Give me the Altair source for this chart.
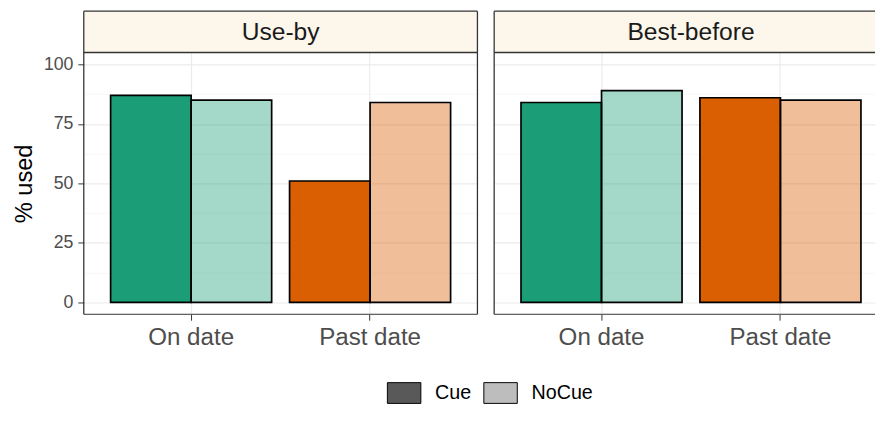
import altair as alt
import pandas as pd

# ---- data ----
panels = ["Use-by", "Best-before"]
dates = ["On date", "Past date"]
cues = ["Cue", "NoCue"]
# order: On date-Cue, On date-NoCue, Past date-Cue, Past date-NoCue
use_by = [87, 85, 51, 84]
best_before = [84, 89, 86, 85]

rows = []
for panel, vals in zip(panels, [use_by, best_before]):
    i = 0
    for d in dates:
        for c in cues:
            rows.append({"panel": panel, "date": d, "cue": c, "pct": vals[i]})
            i += 1
df = pd.DataFrame(rows)

FONT = "Liberation Sans"
W, H, SH = 400, 266, 42   # panel width, panel height, strip height
W_RIGHT = 387             # right panel is cut by the picture edge
GREEN, ORANGE = "#1b9e77", "#d95f02"
BORDER = "#333333"
major = "datum.value % 25 === 0"


def panel_chart(p, first):
    sub = df[df.panel == p]
    vw = W if first else W_RIGHT
    if first:
        xscale = alt.Scale(paddingInner=0.1, paddingOuter=0.15)
    else:
        # same band step / offset as a full 400px panel, but cut at the edge
        xscale = alt.Scale(paddingInner=0.1, paddingOuter=0.1144, align=0.6556)
    yaxis = alt.Axis(
        values=[0, 12.5, 25, 37.5, 50, 62.5, 75, 87.5, 100],
        labelExpr=f"{major} ? datum.label : ''",
        labels=first, ticks=first,
        tickOpacity={"condition": {"test": major, "value": 1}, "value": 0},
        gridWidth={"condition": {"test": major, "value": 1.2}, "value": 0.6},
        gridColor={"condition": {"test": major, "value": "#ebebeb"}, "value": "#f3f3f3"},
        title="% used" if first else None,
        titleFontSize=24, titleFontWeight="normal", titleColor="black", titlePadding=7,
        labelFontSize=18, labelColor="#4d4d4d", labelPadding=5,
        tickSize=6, tickColor=BORDER, domain=False,
    )
    xaxis = alt.Axis(
        title=None, labelAngle=0, labelFontSize=24.5, labelColor="#4d4d4d",
        labelPadding=6, tickSize=6, tickColor=BORDER, domain=False,
        grid=True, gridColor="#ebebeb", gridWidth=1.2,
    )
    xenc = alt.X("date:N", sort=dates, axis=xaxis, scale=xscale)
    yenc = alt.Y("pct:Q", axis=yaxis,
                 scale=alt.Scale(domain=[-5, 105], nice=False, zero=False))
    bars = alt.Chart(sub).mark_bar(stroke="black", strokeWidth=1.7).encode(
        x=xenc,
        xOffset=alt.XOffset("cue:N", sort=cues),
        y=yenc,
        fill=alt.Fill("date:N", sort=dates, legend=None,
                      scale=alt.Scale(domain=dates, range=[GREEN, ORANGE])),
        fillOpacity=alt.FillOpacity("cue:N", sort=cues, legend=None,
                                    scale=alt.Scale(domain=cues, range=[1, 0.4])),
    )
    sdata = alt.Data(values=[{"panel": p}])
    strip = alt.Chart(sdata).mark_rect(fill="#fcf7ea").encode(
        x=alt.value(0), x2=alt.value(vw), y=alt.value(-SH), y2=alt.value(0)
    )
    label = alt.Chart(sdata).mark_text(fontSize=25, font=FONT, color="#1a1a1a", baseline="middle").encode(
        x=alt.value(W / 2), y=alt.value(-SH / 2), text="panel:N"
    )
    rule = alt.Chart(sdata).mark_rule(color=BORDER, strokeWidth=1.3)
    top_rule = rule.encode(x=alt.value(0), x2=alt.value(vw), y=alt.value(-SH))
    mid_rule = rule.encode(x=alt.value(0), x2=alt.value(vw), y=alt.value(0))
    left_rule = rule.encode(x=alt.value(0), y=alt.value(-SH), y2=alt.value(H))
    layers = [strip, label, bars, top_rule, mid_rule, left_rule]
    if first:
        layers.append(rule.encode(x=alt.value(vw), y=alt.value(-SH), y2=alt.value(H)))
        # zero-height bars that only carry the Cue / NoCue legend
        key = alt.Chart(sub).mark_bar(strokeWidth=0).encode(
            x=xenc,
            xOffset=alt.XOffset("cue:N", sort=cues),
            y=yenc,
            y2="pct:Q",
            color=alt.Color("cue:N", sort=cues,
                            scale=alt.Scale(domain=cues, range=["#595959", "#bdbdbd"]),
                            legend=alt.Legend(
                                title=None, orient="none", legendX=308, legendY=328,
                                direction="horizontal", padding=0,
                                symbolType="M-1,-0.62H1V0.62H-1Z", symbolSize=1156,
                                symbolStrokeColor="black", symbolStrokeWidth=1,
                                labelFontSize=20, labelFont=FONT, labelColor="black",
                                labelOffset=14, columnPadding=10,
                            )),
        )
        layers.append(key)
    layers.append(alt.Chart(sdata).mark_rule(color=BORDER, strokeWidth=1).encode(
        x=alt.value(0), x2=alt.value(vw), y=alt.value(H)))
    return alt.layer(*layers).properties(
        width=vw, height=H, view=alt.ViewBackground(stroke="transparent")
    )


chart = alt.hconcat(
    panel_chart(panels[0], True), panel_chart(panels[1], False), spacing=13
).properties(
    padding={"left": 4, "top": -2, "right": 0, "bottom": 0}
).configure(font=FONT)

chart.save("out.html", embed_options={"renderer": "svg", "actions": False})
